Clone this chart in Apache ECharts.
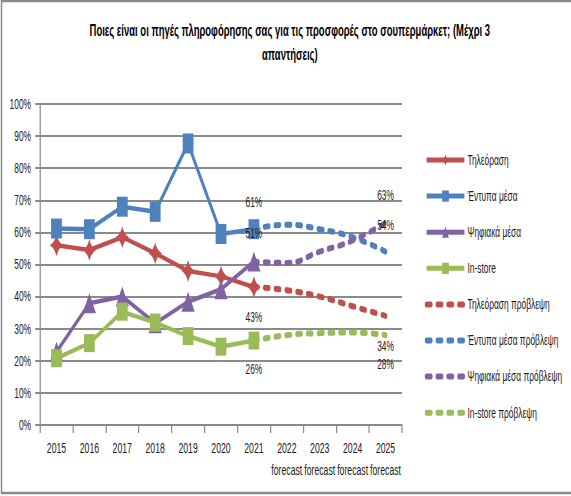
<!DOCTYPE html>
<html>
<head>
<meta charset="utf-8">
<script src="https://cdn.jsdelivr.net/npm/echarts@6/dist/echarts.min.js"></script>
<style>
html, body { margin: 0; padding: 0; background: #fff; overflow: hidden; }
#wrap { width: 571px; height: 496px; overflow: hidden; }
#chart { width: 952px; height: 496px; transform: scaleX(0.6); transform-origin: 0 0; }
</style>
</head>
<body>
<div id="wrap"><div id="chart"></div></div>
<script>
// ---- data ----
const categories = ['2015', '2016', '2017', '2018', '2019', '2020', '2021',
  '2022\nforecast', '2023\nforecast', '2024\nforecast', '2025\nforecast'];
const yTicks = [0, 10, 20, 30, 40, 50, 60, 70, 80, 90, 100];

const tvActual      = [56, 54.5, 58.5, 53.5, 48, 46.3, 43];
const printActual   = [61.2, 61, 68, 66.4, 87.7, 59.5, 61];
const digitalActual = [22.8, 37.9, 40, 31.7, 38.4, 42.3, 50.9];
const storeActual   = [20.8, 25.5, 35.3, 31.9, 27.7, 24.4, 26.3];

// forecast from 2021 to 2025
const tvForecast      = [43, 42, 40, 37, 34];
const printForecast   = [61, 62.4, 61, 58.5, 54];
const digitalForecast = [50.9, 50.5, 54, 57.5, 63];
const storeForecast   = [26.3, 28, 28.6, 28.8, 28];

const seriesNames = ['Τηλεόραση', 'Έντυπα μέσα', 'Ψηφιακά μέσα', 'In-store',
  'Τηλεόραση πρόβλεψη', 'Έντυπα μέσα πρόβλεψη', 'Ψηφιακά μέσα πρόβλεψη', 'In-store πρόβλεψη'];

// ---- helpers ----
const N = categories.length;
function padActual(a) { return a.concat(new Array(N - a.length).fill(null)); }
function padForecast(a) { return new Array(N - a.length).fill(null).concat(a); }

const colors = { red: '#C0504D', blue: '#4F81BD', purple: '#8064A2', green: '#9BBB59' };
const diamondPath = 'path://M0,-10 Q2.6,-2.6 10,0 Q2.6,2.6 0,10 Q-2.6,2.6 -10,0 Q-2.6,-2.6 0,-10 Z';
const FONT = "'Liberation Sans', Arial, sans-serif";

function actual(name, data, color, symbol, size) {
  return {
    name, type: 'line', data: padActual(data), z: 3,
    symbol, symbolSize: size, showAllSymbol: true,
    lineStyle: { color, width: 4.5 },
    itemStyle: { color },
    emphasis: { disabled: true }
  };
}
function forecast(name, data, color, dy) {
  const padded = padForecast(data);
  const lastIdx = N - 1, firstIdx = N - data.length;
  const d = padded.map((v, i) => {
    if (i === firstIdx || i === lastIdx) {
      return { value: v, label: { show: true } };
    }
    return v;
  });
  return {
    name, type: 'line', data: d, smooth: 0.5, z: 4,
    symbol: 'circle', symbolSize: 2, showAllSymbol: true,
    lineStyle: { color, width: 6, type: [7, 11], cap: 'round' },
    itemStyle: { color },
    label: {
      show: false, position: 'inside', offset: [0, dy],
      formatter: p => Math.round(p.value) + '%',
      fontFamily: FONT, fontSize: 14, color: '#1c1c2c'
    },
    emphasis: { disabled: true }
  };
}

const legendData = seriesNames.map((n, i) => i < 4
  ? { name: n, lineStyle: { width: 5 } }
  : { name: n, itemStyle: { opacity: 0 }, lineStyle: { width: 6 } });

const chart = echarts.init(document.getElementById('chart'), null, { renderer: 'svg' });
chart.setOption({
  animation: false,
  backgroundColor: '#fff',
  textStyle: { fontFamily: FONT },
  title: {
    text: 'Ποιες είναι οι πηγές πληροφόρησης σας για τις προσφορές στο σουπερμάρκετ; (Μέχρι 3\nαπαντήσεις)',
    left: 478, top: 14, textAlign: 'center',
    textStyle: { fontFamily: FONT, fontSize: 15.8, fontWeight: 'bold', color: '#000', lineHeight: 24 }
  },
  graphic: [{
    type: 'rect', silent: true, z: 100,
    shape: { x: 2.5, y: 1, width: 1000, height: 492 },
    style: { fill: 'none', stroke: '#8a8a8a', lineWidth: 2.5 }
  }],
  legend: {
    data: legendData,
    orient: 'vertical', left: 703, top: 148,
    itemWidth: 63, itemHeight: 14, itemGap: 22.1,
    textStyle: { fontFamily: FONT, fontSize: 14, color: '#1a1a1a' },
    selectedMode: false
  },
  grid: { left: 66.7, right: 282, top: 104, bottom: 71, containLabel: false },
  xAxis: {
    type: 'category', data: categories, boundaryGap: true,
    axisLine: { lineStyle: { color: '#8a8a8a', width: 2 } },
    axisTick: { show: true, alignWithLabel: false, length: 8, lineStyle: { color: '#8a8a8a', width: 2 } },
    axisLabel: { interval: 0, fontFamily: FONT, fontSize: 14.5, lineHeight: 22.5, margin: 11.5, color: '#1a1a1a' },
    splitLine: { show: false }
  },
  yAxis: {
    type: 'value', min: yTicks[0], max: yTicks[yTicks.length - 1], interval: 10,
    axisLine: { show: true, lineStyle: { color: '#8a8a8a', width: 2 } },
    axisTick: { show: true, length: 8, lineStyle: { color: '#8a8a8a', width: 2 } },
    axisLabel: { formatter: '{value}%', fontFamily: FONT, fontSize: 14, margin: 15, color: '#1a1a1a' },
    splitLine: { lineStyle: { color: '#8a8a8a', width: 2 } }
  },
  series: [
    actual(seriesNames[0], tvActual, colors.red, diamondPath, [22, 22]),
    actual(seriesNames[1], printActual, colors.blue, 'rect', [18, 20]),
    actual(seriesNames[2], digitalActual, colors.purple, 'triangle', [22, 20]),
    actual(seriesNames[3], storeActual, colors.green, 'rect', [18, 18]),
    forecast(seriesNames[4], tvForecast, colors.red, 30),
    forecast(seriesNames[5], printForecast, colors.blue, -27),
    forecast(seriesNames[6], digitalForecast, colors.purple, -28),
    forecast(seriesNames[7], storeForecast, colors.green, 29)
  ]
});
</script>
</body>
</html>
